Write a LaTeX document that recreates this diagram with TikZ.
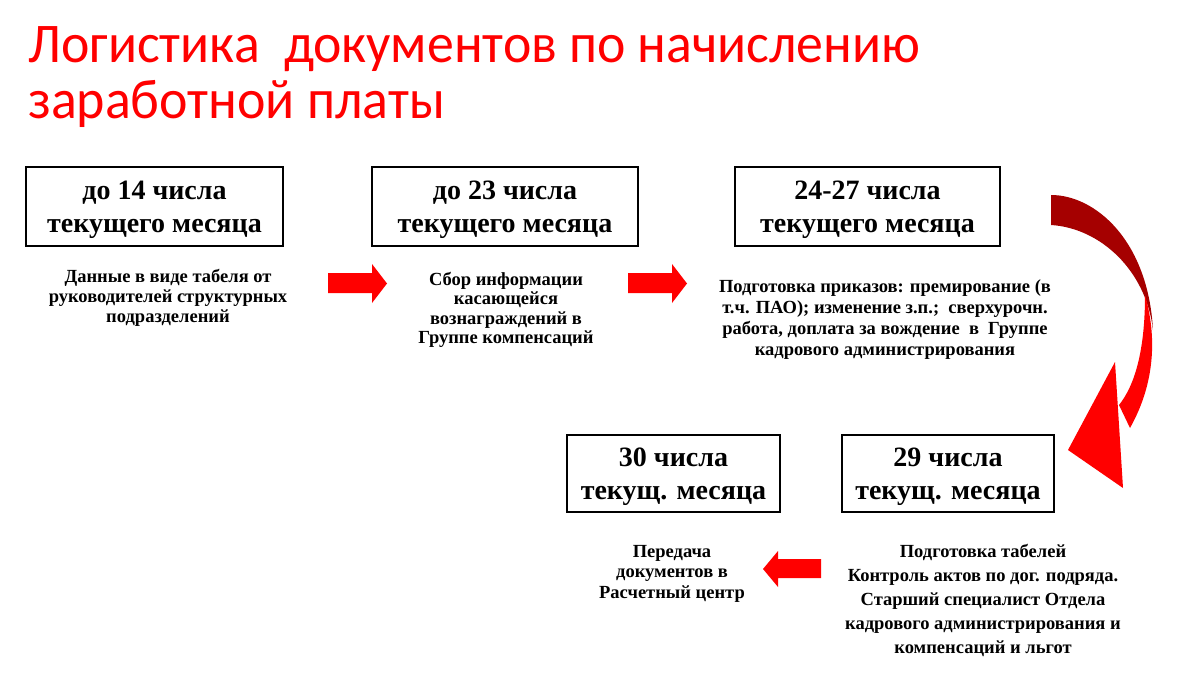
\documentclass[tikz,border=0pt]{standalone}
\usepackage{fontspec}
\setmainfont{Liberation Serif}
\newfontfamily\titlefont{Carlito}
\usepackage{graphicx}
\definecolor{arrred}{RGB}{255,0,0}
\definecolor{arrdark}{RGB}{165,0,0}
\definecolor{titlered}{RGB}{255,0,0}
\begin{document}
\begin{tikzpicture}[x=1pt,y=-1pt,
  datebox/.style={draw=black, line width=2pt, inner sep=0pt},
  boxtext/.style={align=center, inner sep=0pt,
    font=\fontsize{28}{33}\bfseries\selectfont},
  desc/.style={align=center, inner sep=0pt, anchor=base,
    font=\fontsize{18.5}{#1}\bfseries\selectfont},
  desc/.default=20,
  titletext/.style={inner sep=0pt, anchor=base west, text=titlered,
    font=\fontsize{56}{60}\titlefont\selectfont},
  blockarrow/.style={fill=arrred, draw=none}]
\useasboundingbox (0,0) rectangle (1186,672);

% title
\node[titletext] (t1) at (28,62) {\resizebox{892pt}{\height}{Логистика\ \ документов по начислению}};
\node[titletext] (t2) at (28,118) {\resizebox{417pt}{\height}{заработной платы}};

% date boxes
\node[datebox, minimum width=257pt, minimum height=79pt] (b1) at (154.5,206.5) {};
\node[datebox, minimum width=266pt, minimum height=79pt] (b2) at (505,206.5) {};
\node[datebox, minimum width=265pt, minimum height=79pt] (b3) at (867.5,206.5) {};
\node[datebox, minimum width=213pt, minimum height=77pt] (b30) at (673.5,473.5) {};
\node[datebox, minimum width=212pt, minimum height=77pt] (b29) at (948,473.5) {};
\node[boxtext] (b1t) at ([yshift=-3.5pt]b1.center) {до 14 числа\\текущего месяца};
\node[boxtext] (b2t) at ([yshift=-3.5pt]b2.center) {до 23 числа\\текущего месяца};
\node[boxtext] (b3t) at ([yshift=-3.5pt]b3.center) {24-27 числа\\текущего месяца};
\node[boxtext] (b30t) at ([yshift=-3pt]b30.center) {30 числа\\текущ. месяца};
\node[boxtext] (b29t) at ([yshift=-3pt]b29.center) {29 числа\\текущ. месяца};

% descriptions (anchored at the baseline of their last line)
\node[desc=20] (d1) at (168,322) {Данные в виде табеля от\\руководителей структурных\\подразделений};
\node[desc=19.5] (d2) at (506,343.5) {Сбор информации\\касающейся\\вознаграждений в\\Группе компенсаций};
\node[desc=21] (d3) at (885,355) {Подготовка приказов: премирование (в\\т.ч. ПАО); изменение з.п.;~ сверхурочн.\\работа, доплата за вождение~ в~ Группе\\кадрового администрирования};
\node[desc=20.5] (d30) at (672,598) {Передача\\документов в\\Расчетный центр};
\node[desc=24] (d29) at (983,653) {Подготовка табелей\\Контроль актов по дог. подряда.\\Старший специалист Отдела\\кадрового администрирования и\\компенсаций и льгот};

% straight block arrows
\coordinate (a1) at (328,283);
\coordinate (a2) at (628,283);
\fill[blockarrow] (a1) ++(0,-10) -- ++(44,0) -- ++(0,-9) -- ++(15,19.5) -- ++(-15,19.5) -- ++(0,-10) -- ++(-44,0) -- cycle;
\fill[blockarrow] (a2) ++(0,-10) -- ++(44,0) -- ++(0,-9) -- ++(15,19.5) -- ++(-15,19.5) -- ++(0,-10) -- ++(-44,0) -- cycle;
\coordinate (a3) at (763,569);
\fill[blockarrow] (a3) -- ++(15,-18) -- ++(0,8) -- ++(43,0) -- ++(0,19) -- ++(-43,0) -- ++(0,9) -- cycle;

% curved arrow from 24-27 to 29
\fill[arrdark] (1051,195) .. controls (1095,195) and (1148,240) .. (1153,330)
  .. controls (1146,270) and (1100,228) .. (1051,225) -- cycle;
\fill[arrred] (1145,295) .. controls (1155,330) and (1158,378) .. (1130,428)
  -- (1119,405) .. controls (1135,385) and (1145,350) .. (1145,295) -- cycle;
\fill[arrred] (1115,362) -- (1068,450) -- (1123,488) -- cycle;
\end{tikzpicture}
\end{document}
